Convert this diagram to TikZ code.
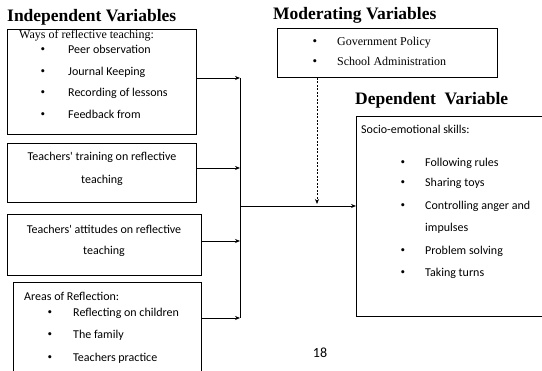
\documentclass[tikz,border=0pt]{standalone}
\usepackage{fontspec}
\setmainfont{Liberation Serif}
\newfontfamily\calfont{Carlito}
\usetikzlibrary{arrows.meta}
\tikzstyle{varBox}=[draw, line width=0.8pt, anchor=north west, inner sep=0pt]
\tikzstyle{headText}=[anchor=base west, inner sep=0pt, font=\fontsize{17.5}{19}\selectfont\bfseries]
\tikzstyle{serifText}=[anchor=base west, inner sep=0pt, font=\fontsize{12}{14}\selectfont]
\tikzstyle{sansText}=[anchor=base west, inner sep=0pt, font=\calfont\fontsize{12}{14}\selectfont]
\tikzstyle{midText}=[anchor=base, inner sep=0pt, font=\calfont\fontsize{12}{14}\selectfont]
\tikzstyle{dotItem}=[anchor=base, inner sep=0pt, font=\fontsize{13}{14}\selectfont]

\begin{document}
\begin{tikzpicture}[x = 1pt, y = -1pt, >={Stealth[length=5pt, width=4pt]}]
\useasboundingbox (0,0) rectangle (542,371);
\clip (0,0) rectangle (542,371);
\tikzstyle{linkStyle}=[line width = 0.8pt]
% headings
\node[headText] (hIndep) at (7,22) {Independent Variables};
\node[headText] (hMod) at (273,20) {Moderating Variables};
\node[headText] (hDep) at (355,105) {Dependent~~Variable};
% independent boxes
\node[varBox, minimum width = 189pt, minimum height = 105pt] (iv1) at (7,29) {};
\node[varBox, minimum width = 189pt, minimum height = 59pt] (iv2) at (7,143) {};
\node[varBox, minimum width = 194pt, minimum height = 61pt] (iv3) at (7,214) {};
\node[varBox, minimum width = 188pt, minimum height = 100pt] (iv4) at (13,282) {};
% moderating and dependent boxes
\node[varBox, minimum width = 220pt, minimum height = 49pt] (mv) at (277,28) {};
\node[varBox, minimum width = 200pt, minimum height = 200pt] (dv) at (356,116) {};
% box 1
\node[serifText] (w0) at (19,39) {Ways of reflective teaching:};
\foreach \y/\t [count = \i] in {54/Peer observation, 76/Journal Keeping, 97/Recording of lessons, 119/Feedback from} {
  \node[dotItem] (wb\i) at (43,\y) {\textbullet};
  \node[sansText] (w\i) at (68,\y) {\t};
}
% box 2 and 3
\node[midText] (t1) at (102,161) {Teachers' training on reflective};
\node[midText] (t2) at (102,184) {teaching};
\node[midText] (a1) at (104,234) {Teachers' attitudes on reflective};
\node[midText] (a2) at (104,255) {teaching};
% box 4
\node[sansText] (r0) at (24,301) {Areas of Reflection:};
\foreach \y/\t [count = \i] in {317/Reflecting on children, 339/The family, 362/Teachers practice} {
  \node[dotItem] (rb\i) at (50,\y) {\textbullet};
  \node[sansText] (r\i) at (73,\y) {\t};
}
% moderating
\foreach \y/\t [count = \i] in {46/Government Policy, 66/School Administration} {
  \node[dotItem] (mb\i) at (315,\y) {\textbullet};
  \node[serifText] (m\i) at (337,\y) {\t};
}
% dependent
\node[sansText] (s0) at (361,134) {Socio-emotional skills:};
\foreach \y/\t [count = \i] in {167/Following rules, 187/Sharing toys, 210/Controlling anger and, 255/Problem solving, 277/Taking turns} {
  \node[dotItem] (sb\i) at (403,\y) {\textbullet};
  \node[sansText] (s\i) at (425,\y) {\t};
}
\node[sansText] (s6) at (425,232) {impulses};
\node[midText, font = \calfont\fontsize{14}{16}\selectfont] (pg) at (320,358) {18};
% connectors
\coordinate (j1) at (240,78);
\coordinate (j2) at (240,168);
\coordinate (j3) at (240,241);
\coordinate (j4) at (240,318);
\coordinate (jm) at (240,206);
\coordinate (md) at (317,206);
\draw[linkStyle, ->] (iv1.east |- j1) -- (j1);
\draw[linkStyle, ->] (iv2.east |- j2) -- (j2);
\draw[linkStyle, ->] (iv3.east |- j3) -- (j3);
\draw[linkStyle, ->] (iv4.east |- j4) -- (j4);
\draw[linkStyle] (j1) -- (j4);
\draw[linkStyle, ->] (jm) -- (dv.west |- jm);
\draw[linkStyle, ->, dash pattern = on 2pt off 1.5pt] (mv.south -| md) -- ([yshift = 2pt]md);
\end{tikzpicture}
\end{document}
